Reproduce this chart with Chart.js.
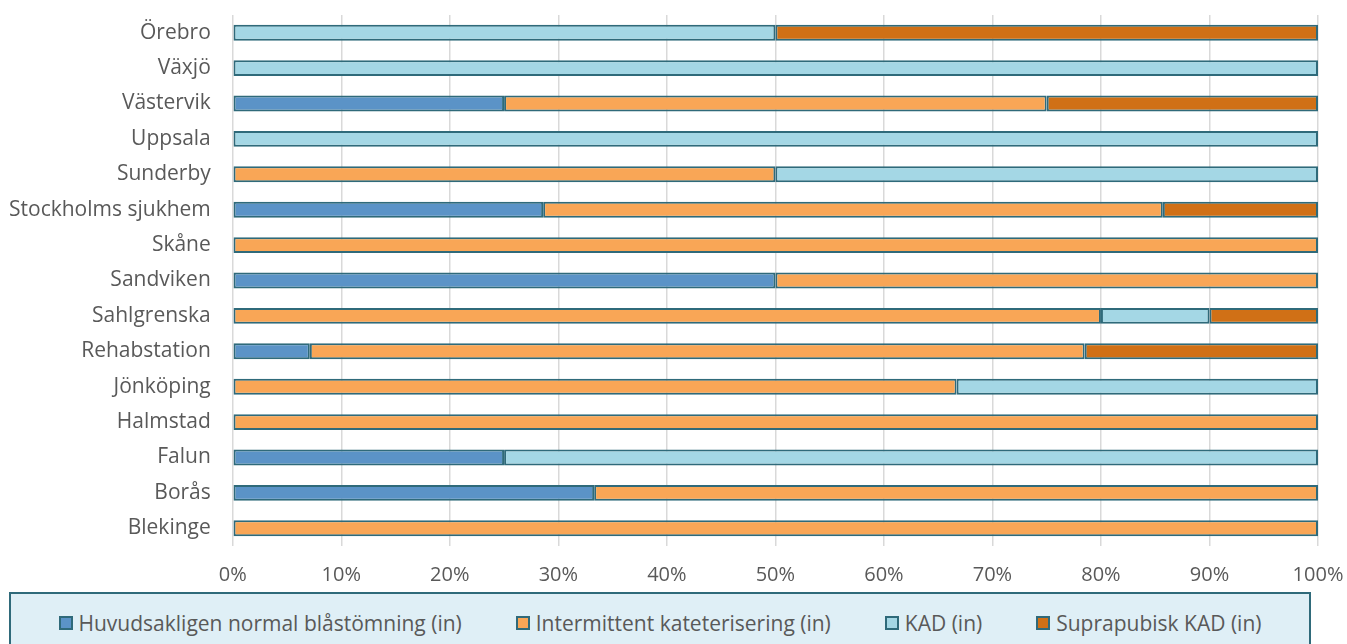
<!DOCTYPE html>
<html>
<head>
<meta charset="utf-8">
<script src="https://cdn.jsdelivr.net/npm/chart.js@4/dist/chart.umd.min.js"></script>
<style>
  html, body { margin: 0; padding: 0; background: #fff; }
  body { width: 1347px; height: 644px; position: relative; overflow: hidden; font-family: 'Open Sans', sans-serif; }
  #wrap { position: absolute; left: 0; top: 0; width: 1347px; height: 592px; }
  #legend {
    position: absolute; left: 9px; top: 592px; width: 1302px; height: 70px;
    background: #dfeff6; border: 2px solid #2f6a7a; box-sizing: border-box;
    display: flex; justify-content: center; align-items: flex-start; padding-top: 14px;
    color: #595959; font-size: 21px; line-height: 30px;
  }
  .item { display: flex; align-items: center; margin: 0 27px; white-space: nowrap; }
  .sw { width: 10px; height: 10px; border: 2px solid #2f6a7a; margin-right: 6px; }
</style>
</head>
<body>
<div id="wrap"><canvas id="chart"></canvas></div>
<div id="legend"></div>
<script>
  var CATEGORIES = ['Örebro', 'Växjö', 'Västervik', 'Uppsala', 'Sunderby', 'Stockholms sjukhem', 'Skåne',
    'Sandviken', 'Sahlgrenska', 'Rehabstation', 'Jönköping', 'Halmstad', 'Falun', 'Borås', 'Blekinge'];

  var NORMAL   = [0, 0, 25, 0, 0, 28.6, 0, 50, 0, 7.1, 0, 0, 25, 33.3, 0];
  var INTERMIT = [0, 0, 50, 0, 50, 57.1, 100, 50, 80, 71.4, 66.7, 100, 0, 66.7, 100];
  var KAD      = [50, 100, 0, 100, 50, 0, 0, 0, 10, 0, 33.3, 0, 75, 0, 0];
  var SUPRA    = [50, 0, 25, 0, 0, 14.3, 0, 0, 10, 21.5, 0, 0, 0, 0, 0];

  var SERIES = ['Huvudsakligen normal blåstömning (in)', 'Intermittent kateterisering (in)', 'KAD (in)', 'Suprapubisk KAD (in)'];
  var COLORS = ['#5b93c7', '#f9a656', '#a4d7e5', '#d07016'];
  var BORDER = '#2f6a7a';

  var values = [NORMAL, INTERMIT, KAD, SUPRA];
  var datasets = SERIES.map(function (name, i) {
    return {
      label: name, data: values[i], backgroundColor: COLORS[i],
      borderColor: BORDER, borderWidth: 2, borderSkipped: false,
      barPercentage: 0.45, categoryPercentage: 1
    };
  });

  // drop the automatic label overhang padding and the doubled tick padding,
  // so the layout padding alone places the plot area
  function tightFit(scale) {
    var pad = scale.options.ticks.padding;
    scale.paddingTop = 0; scale.paddingBottom = 0;
    scale.paddingLeft = 0; scale.paddingRight = 0;
    if (scale.isHorizontal()) scale.height -= pad;
    else scale.width -= pad;
  }

  var textColor = '#595959';
  var FONT = "'Open Sans', sans-serif";
  new Chart(document.getElementById('chart'), {
    type: 'bar',
    data: { labels: CATEGORIES, datasets: datasets },
    options: {
      indexAxis: 'y', responsive: true, maintainAspectRatio: false, animation: false,
      layout: { padding: { top: 15, right: 29, left: 9, bottom: 5 } },
      plugins: { legend: { display: false }, tooltip: { enabled: false } },
      scales: {
        x: {
          stacked: true, min: 0, max: 100,
          afterFit: tightFit,
          grid: { color: '#d9d9d9', lineWidth: 1.5, drawTicks: false },
          border: { display: false },
          ticks: { stepSize: 10, color: textColor, padding: 17, maxRotation: 0, font: { family: FONT, size: 20 },
            callback: function (v) { return v + '%'; } }
        },
        y: {
          stacked: true,
          afterFit: tightFit,
          grid: { display: false, drawTicks: false },
          border: { display: false },
          ticks: { color: textColor, padding: 22, font: { family: FONT, size: 21 } }
        }
      }
    }
  });

  var legend = document.getElementById('legend');
  SERIES.forEach(function (name, i) {
    var it = document.createElement('div');
    it.className = 'item';
    it.innerHTML = '<span class="sw" style="background:' + COLORS[i] + '"></span><span>' + name + '</span>';
    legend.appendChild(it);
  });
</script>
</body>
</html>
